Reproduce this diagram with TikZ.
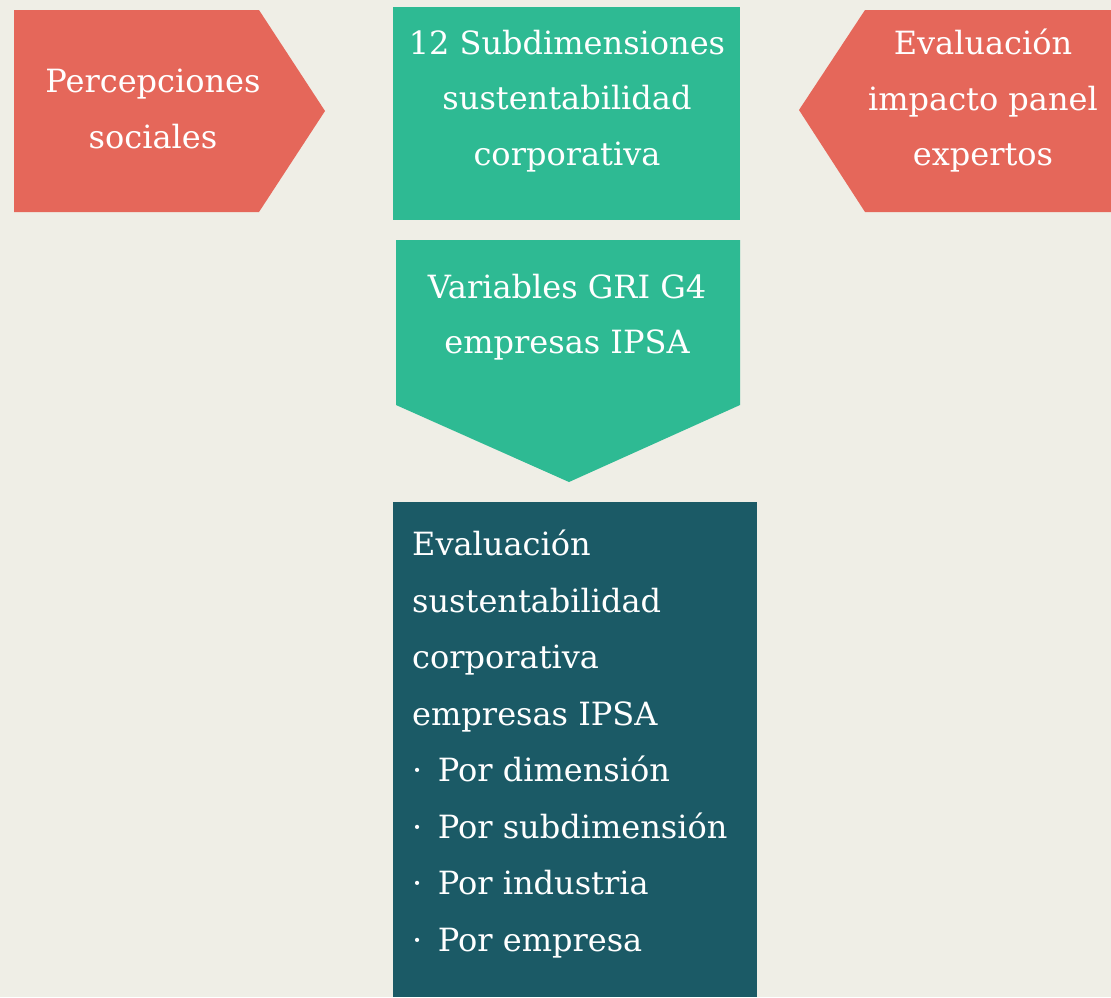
\documentclass[tikz,border=0pt]{standalone}
\usepackage{fontspec}
\setmainfont{DejaVu Serif}
\definecolor{bg}{HTML}{EFEEE6}
\definecolor{redc}{HTML}{E5675A}
\definecolor{greenc}{HTML}{2EBA93}
\definecolor{darkc}{HTML}{1B5A66}
\tikzset{
  lbl/.style={text=white, font=\fontsize{32}{55.5}\selectfont, align=center, inner sep=0pt},
  lbldark/.style={text=white, font=\fontsize{32}{56.5}\selectfont, align=left, inner sep=0pt, anchor=north west},
}
\begin{document}
\begin{tikzpicture}[x=1pt,y=-1pt]
\fill[bg] (0,0) rectangle (1111,997);
\useasboundingbox (0,0) rectangle (1111,997);
% left pentagon
\fill[redc] (14,10) -- (259,10) -- (325,111) -- (259,212) -- (14,212) -- cycle;
% top center box
\fill[greenc] (393,7) rectangle (740,220);
% right pentagon
\fill[redc] (1111,10) -- (865,10) -- (799,110) -- (865,212) -- (1111,212) -- cycle;
% arrow down
\fill[greenc] (396,240) -- (740,240) -- (740,405) -- (569,482) -- (396,405) -- cycle;
% dark box
\fill[darkc] (393,502) rectangle (757,997);
\node[lbl] (perc) at (153,109) {Percepciones\\sociales};
\node[lbl] (sub) at (567,101) {12 Subdimensiones\\sustentabilidad\\corporativa};
\node[lbl] (eval) at (983,101) {Evaluación\\impacto panel\\expertos};
\node[lbl] (vars) at (567,317) {Variables GRI G4\\empresas IPSA};
\node[lbldark] (res) at (412,530) {Evaluación\\sustentabilidad\\corporativa\\empresas IPSA\\·\, Por dimensión\\·\, Por subdimensión\\·\, Por industria\\·\, Por empresa};
\end{tikzpicture}
\end{document}
